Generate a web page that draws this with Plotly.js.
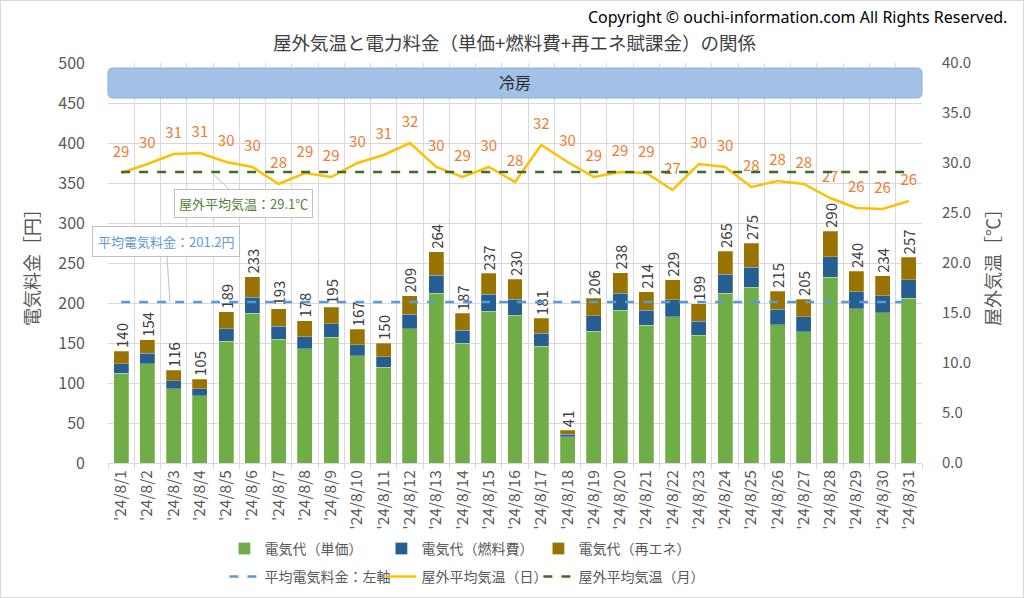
<!DOCTYPE html>
<html><head><meta charset="utf-8">
<script src="https://cdn.plot.ly/plotly-3.0.1.min.js"></script>
<style>
html,body{margin:0;padding:0;background:#fff;}
#chart{width:1022px;height:596px;border:1px solid #d9d9d9;}
</style></head><body>
<div id="chart"></div>
<script>
const days = ["'24/8/1","'24/8/2","'24/8/3","'24/8/4","'24/8/5","'24/8/6","'24/8/7","'24/8/8","'24/8/9","'24/8/10",
"'24/8/11","'24/8/12","'24/8/13","'24/8/14","'24/8/15","'24/8/16","'24/8/17","'24/8/18","'24/8/19","'24/8/20",
"'24/8/21","'24/8/22","'24/8/23","'24/8/24","'24/8/25","'24/8/26","'24/8/27","'24/8/28","'24/8/29","'24/8/30","'24/8/31"];
const unitCost  = [112,124,93,84,152,187,155,143,157,134,120,168,212,150,190,185,146,33,165,191,172,183,160,212,220,173,164,232,193,188,206];
const fuelCost  = [12,13,10,9,16,20,16,15,17,14,13,18,23,16,21,20,16,3,19,21,19,21,17,24,25,19,19,26,21,21,23];
const renewCost = [16,17,13,12,21,26,22,20,21,19,17,23,29,21,26,25,19,5,22,26,23,25,22,29,30,23,22,32,26,25,28];
const totals    = [140,154,116,105,189,233,193,178,195,167,150,209,264,187,237,230,181,41,206,238,214,229,199,265,275,215,205,290,240,234,257];
const temps     = [29.0,29.9,30.9,31.0,30.1,29.6,27.9,29.0,28.6,30.0,30.8,32.0,29.6,28.6,29.6,28.1,31.8,30.1,28.6,29.1,29.0,27.3,29.9,29.6,27.6,28.2,27.9,26.5,25.5,25.4,26.2];
const tempLabels= [29,30,31,31,30,30,28,29,29,30,31,32,30,29,30,28,32,30,29,29,29,27,30,30,28,28,28,27,26,26,26];
const avgCost = 201.2;
const avgTemp = 29.1;

const FONT = '"Noto Sans CJK JP", "Noto Sans", sans-serif';
const GREY = '#595959';
const ends = [days[0], days[days.length-1]];

const traces = [
  {type:'bar', name:'電気代（単価）', x:days, y:unitCost, marker:{color:'#70AD47', line:{color:'rgba(255,255,255,0.5)', width:0.5}}, legend:'legend', hoverinfo:'skip'},
  {type:'bar', name:'電気代（燃料費）', x:days, y:fuelCost, marker:{color:'#255E91', line:{color:'rgba(255,255,255,0.5)', width:0.5}}, legend:'legend', hoverinfo:'skip'},
  {type:'bar', name:'電気代（再エネ）', x:days, y:renewCost, marker:{color:'#997300', line:{color:'rgba(255,255,255,0.5)', width:0.5}}, legend:'legend', hoverinfo:'skip',
    text: totals.map(String), textposition:'outside', textangle:-90, cliponaxis:false, constraintext:'none',
    outsidetextfont:{family:FONT, size:15, color:'#404040'}},
  {type:'scatter', mode:'lines', name:'平均電気料金：左軸', x:ends, y:[avgCost, avgCost], line:{color:'#5B9BD5', width:2.5, dash:'dash'}, legend:'legend2', hoverinfo:'skip'},
  {type:'scatter', mode:'lines+markers+text', name:'屋外平均気温（日）', x:days, y:temps, yaxis:'y2', line:{color:'#FFC000', width:2.5},
    marker:{size:18, color:'rgba(0,0,0,0)'}, text: tempLabels.map(String), textposition:'top center',
    textfont:{family:FONT, size:15, color:'#ED7D31'}, legend:'legend2', hoverinfo:'skip', cliponaxis:false},
  {type:'scatter', mode:'lines', name:'屋外平均気温（月）', x:ends, y:[avgTemp, avgTemp], yaxis:'y2', line:{color:'#3E6B2A', width:2.5, dash:'dash'}, legend:'legend2', hoverinfo:'skip'}
];

const layout = {
  width:1022, height:596,
  margin:{l:107, r:101, t:62, b:134},
  paper_bgcolor:'#ffffff', plot_bgcolor:'#ffffff',
  font:{family:FONT, color:GREY},
  barmode:'stack', bargap:0.43,
  showlegend:true,
  xaxis:{type:'category', tickson:'boundaries', showgrid:true, gridcolor:'#d9d9d9', gridwidth:1, automargin:false,
    ticks:'outside', ticklen:5, tickcolor:'#d9d9d9', tickangle:-90,
    tickfont:{family:FONT, size:15.5, color:GREY}, showline:true, linecolor:'#d9d9d9', zeroline:false,
    range:[-0.5, 30.5], fixedrange:true},
  yaxis:{range:[0,500], dtick:50, gridcolor:'#d9d9d9', zeroline:false, showline:false, automargin:false,
    tickfont:{family:FONT, size:16, color:GREY}, ticks:'', ticklabelstandoff:22,
    title:{text:'電気料金［円］', font:{family:FONT, size:18, color:GREY}, standoff:14}},
  yaxis2:{range:[0,40], dtick:5, tickformat:'.1f', overlaying:'y', side:'right', showgrid:false, zeroline:false, automargin:false,
    tickfont:{family:FONT, size:15, color:GREY}, ticklabelstandoff:19,
    title:{text:'屋外気温［℃］', font:{family:FONT, size:18, color:GREY}, standoff:17}},
  legend:{orientation:'h', x:0.143, xanchor:'left', yref:'container', y:0.0805, yanchor:'middle', entrywidth:112, entrywidthmode:'pixels',
    font:{family:FONT, size:14, color:GREY}, bgcolor:'rgba(0,0,0,0)', itemwidth:30, traceorder:'normal'},
  legend2:{orientation:'h', x:0.143, xanchor:'left', yref:'container', y:0.0336, yanchor:'middle', entrywidth:112, entrywidthmode:'pixels',
    font:{family:FONT, size:14, color:GREY}, bgcolor:'rgba(0,0,0,0)', itemwidth:30, traceorder:'normal'},
  shapes:[
    {type:'path', xref:'paper', yref:'paper', layer:'above',
     path:'M 0.006,0.9875 L 0.994,0.9875 Q 1.0,0.9875 1.0,0.975 L 1.0,0.925 Q 1.0,0.9125 0.994,0.9125 L 0.006,0.9125 Q 0.0,0.9125 0.0,0.925 L 0.0,0.975 Q 0.0,0.9875 0.006,0.9875 Z',
     fillcolor:'#A2C1E7', line:{color:'#8DB0DD', width:1}}
  ],
  annotations:[
    {xref:'paper', yref:'paper', x:0.5, y:0.9515, yanchor:'middle', text:'冷房', showarrow:false, font:{family:FONT, size:16, color:'#262626'}},
    {xref:'paper', yref:'paper', x:1.1065, xanchor:'right', y:1.115, yanchor:'middle', text:'Copyright © ouchi-information.com All Rights Reserved.',
     showarrow:false, font:{family:'"Noto Sans", sans-serif', size:16, color:'#000000'}},
    {xref:'paper', yref:'paper', x:0.5, y:1.0525, yanchor:'middle', text:'屋外気温と電力料金（単価+燃料費+再エネ賦課金）の関係',
     showarrow:false, font:{family:FONT, size:18.5, color:'#404040'}},
    {xref:'x', yref:'y2', x:3.42, y:avgTemp, text:'屋外平均気温：29.1℃', showarrow:true, arrowhead:0, arrowwidth:1, arrowcolor:'#bfbfbf',
     ax:33, ay:31, bgcolor:'#ffffff', bordercolor:'#bfbfbf', borderwidth:1, borderpad:4, font:{family:FONT, size:13, color:'#548235'}},
    {xref:'x', yref:'y', x:1.86, y:avgCost, text:'平均電気料金：201.2円', showarrow:true, arrowhead:0, arrowwidth:1, arrowcolor:'#bfbfbf',
     ax:-4, ay:-61, bgcolor:'#ffffff', bordercolor:'#bfbfbf', borderwidth:1, borderpad:5, font:{family:FONT, size:13, color:'#5B9BD5'}}
  ]
};

Plotly.newPlot('chart', traces, layout, {displayModeBar:false, staticPlot:true});
</script>
</body></html>
